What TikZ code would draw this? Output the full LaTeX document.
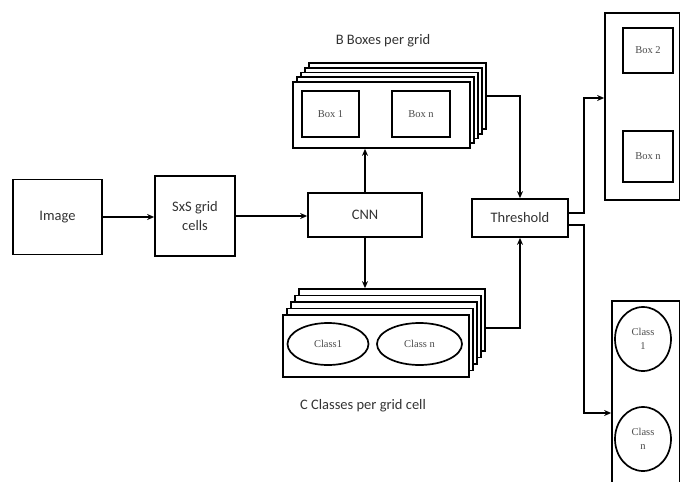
\documentclass[tikz,border=0pt]{standalone}
\usepackage{fontspec}
\setmainfont{Carlito}
\newfontfamily\smallserif{Liberation Serif}
\usetikzlibrary{arrows.meta,shapes.geometric}
\begin{document}
\begin{tikzpicture}[x=1pt,y=-1pt,line width=1.7pt,
  blk/.style={draw,fill=white,inner sep=0pt,align=center,font=\fontsize{14.5}{19}\selectfont,text=black!80},
  layer/.style={draw,fill=white,inner sep=0pt},
  inbox/.style={draw,fill=white,inner sep=0pt,align=center,font=\smallserif\fontsize{10.5}{13}\selectfont,text=black!70},
  inell/.style={draw,ellipse,fill=white,inner sep=0pt,align=center,font=\smallserif\fontsize{10.5}{14}\selectfont,text=black!70},
  lbl/.style={font=\fontsize{14.5}{17}\selectfont,text=black!80},
  arr/.style={-{Stealth[length=7pt,width=6pt]}}]
\useasboundingbox (0,0) rectangle (681,482);
\clip (0,0) rectangle (681,482);
% left chain
\node[blk,minimum width=89pt,minimum height=75pt] (img) at (57.5,217) {Image};
\node[blk,minimum width=80pt,minimum height=80pt] (sxs) at (195,216) {SxS grid\\cells};
\node[blk,minimum width=114pt,minimum height=44pt] (cnn) at (365,215) {CNN};
\node[blk,minimum width=96pt,minimum height=38pt] (thr) at (520,218) {Threshold};
% top stack
\foreach \k in {4,3,2,1}{
  \node[layer,minimum width=177pt,minimum height=66pt] (tl\k) at (381.5+4*\k,115-4.75*\k) {};
}
\node[layer,minimum width=177pt,minimum height=66pt] (tf) at (381.5,115) {};
\node[inbox,minimum width=57pt,minimum height=46pt] (box1) at (330.5,114) {Box 1};
\node[inbox,minimum width=58pt,minimum height=46pt] (boxn) at (421,114) {Box n};
\node[lbl] (tlab) at (383,41) {B Boxes per grid};
% bottom stack
\foreach \k in {4,3,2,1}{
  \node[layer,minimum width=186pt,minimum height=62pt] (bl\k) at (376+4*\k,346-6.5*\k) {};
}
\node[layer,minimum width=186pt,minimum height=62pt] (bf) at (376,346) {};
\node[inell,minimum width=81pt,minimum height=42pt] (cls1) at (328,344) {Class1};
\node[inell,minimum width=85pt,minimum height=42pt] (clsn) at (419.5,344) {Class n};
\node[lbl] (blab) at (363,406) {C Classes per grid cell};
% right outputs
\node[layer,minimum width=74.5pt,minimum height=187pt] (rt) at (642.25,106.5) {};
\node[inbox,minimum width=50pt,minimum height=45pt] (rbox2) at (648,50.5) {Box 2};
\node[inbox,minimum width=50pt,minimum height=51pt] (rboxn) at (648,156.5) {Box n};
\node[layer,minimum width=67.5pt,minimum height=199pt] (rb) at (645.75,400.5) {};
\node[inell,minimum width=56pt,minimum height=64pt] (rc1) at (643,339) {Class\\1};
\node[inell,minimum width=56pt,minimum height=64pt] (rcn) at (643,439) {Class\\n};
% connectors
\draw[arr] (img.east) -- (img.east -| sxs.west);
\draw[arr] (sxs.east) -- (sxs.east -| cnn.west);
\draw[arr] (cnn.north) -- (cnn.north |- tf.south);
\draw[arr] (cnn.south) -- (cnn.south |- bl4.north);
\draw[arr] (tl4.east) -| (thr.north);
\draw[arr] (bl4.east |- 0,328) -| (thr.south);
\draw[arr] ([yshift=5pt]thr.east) -- ++(15,0) |- (rt.west |- 0,98);
\draw[arr] ([yshift=-7pt]thr.east) -- ++(15,0) |- (rb.west |- 0,413);
\end{tikzpicture}
\end{document}
